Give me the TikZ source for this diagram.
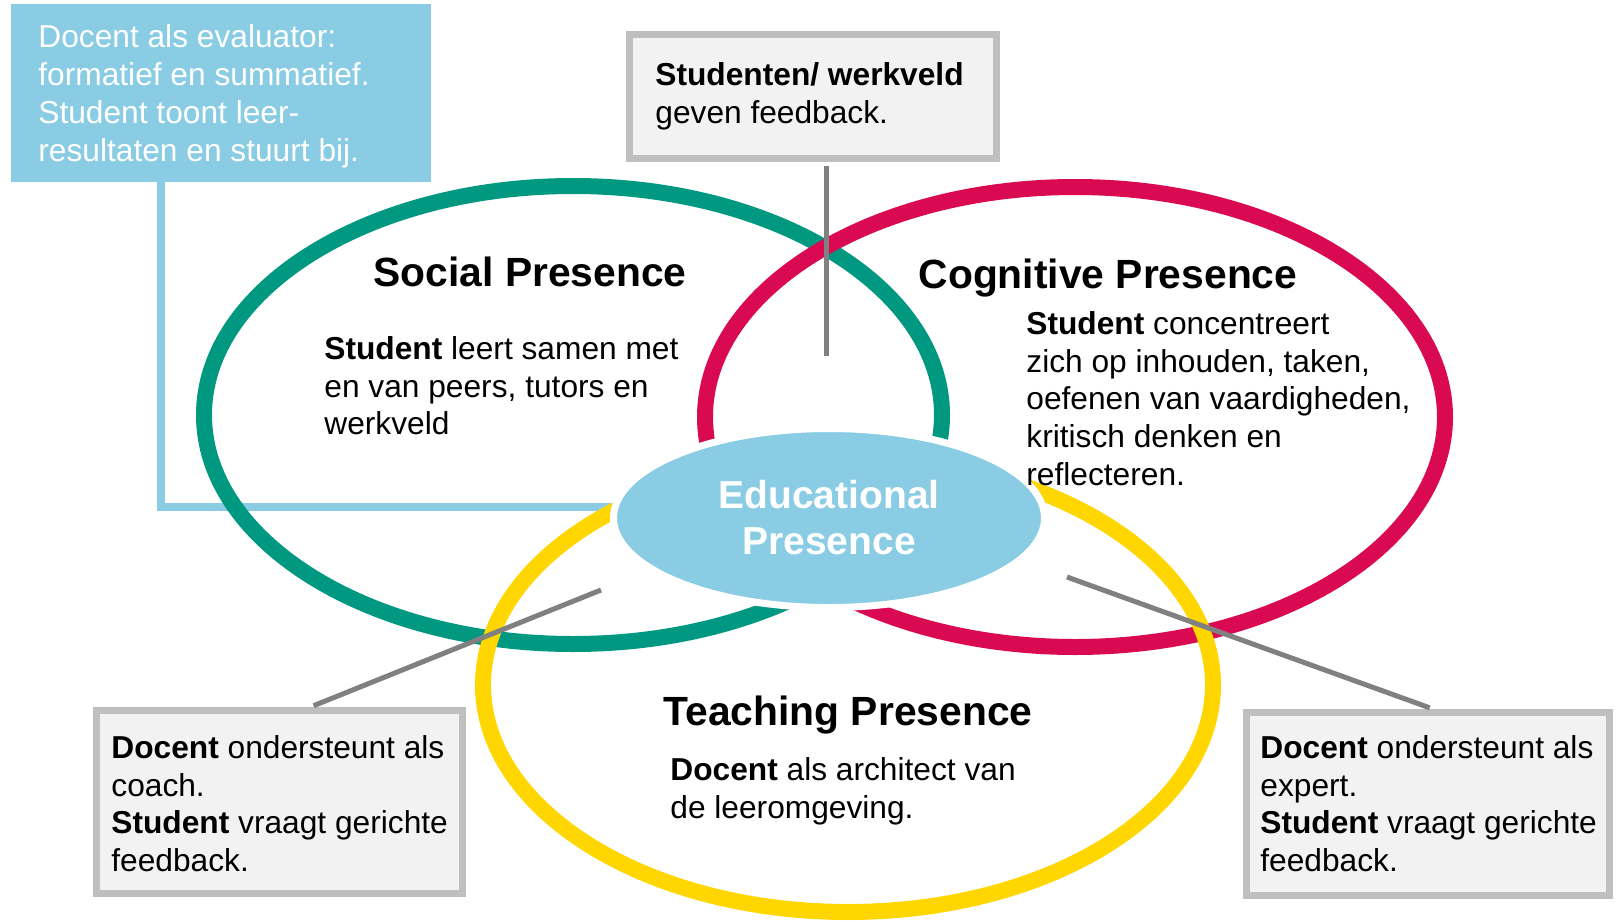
\documentclass[tikz,border=0pt]{standalone}
\usepackage{fontspec}
\setmainfont{Liberation Sans}
\usetikzlibrary{shapes.geometric}

\definecolor{edublue}{RGB}{137,204,228}
\definecolor{socgreen}{RGB}{0,152,128}
\definecolor{cogred}{RGB}{218,10,82}
\definecolor{teachyellow}{RGB}{255,214,0}
\definecolor{linegray}{RGB}{128,128,128}
\definecolor{boxgray}{RGB}{191,191,191}
\definecolor{boxfill}{RGB}{242,242,242}

\pgfdeclarelayer{achter}
\pgfsetlayers{achter,main}

\tikzset{
	ring/.style={line width=8pt},
	greybox/.style={rectangle, draw=boxgray, line width=3.5pt, fill=boxfill, inner sep=0pt},
	bodytext/.style={font=\fontsize{15.85}{18.9}\selectfont, align=left, anchor=north west, inner sep=0pt},
	titletext/.style={font=\bfseries\fontsize{20.4}{24}\selectfont, anchor=base, inner sep=0pt},
	greylink/.style={draw=linegray, line width=2.5pt, shorten <=1.75pt},
	bluelink/.style={draw=edublue, line width=4pt}
}

\begin{document}
\begin{tikzpicture}[x=0.5pt,y=-0.5pt]
	\useasboundingbox (0,0) rectangle (1616,921);
	
	%evaluator
	\node[rectangle, fill=edublue, inner sep=0pt, minimum width=210pt, minimum height=89pt] (eval) at (221,93) {};
	\node[bodytext, text=white] (evaltext) at (38,24.5) {Docent als evaluator:\\formatief en summatief.\\Student toont leer-\\resultaten en stuurt bij.};
	
	%ringen
	\draw[ring, socgreen] (573,415) ellipse [x radius=369, y radius=229];
	\draw[ring, cogred] (1075,417) ellipse [x radius=370, y radius=230];
	\draw[ring, teachyellow] (848,685) ellipse [x radius=365, y radius=227];
	
	%educational presence
	\node[ellipse, fill=edublue, draw=white, line width=3.5pt, inner sep=0pt,
		minimum width=215.5pt, minimum height=89.5pt, text=white, align=center,
		font=\bfseries\fontsize{19.5}{23}\selectfont] (edu) at (829,518) {Educational\\Presence};
	\begin{pgfonlayer}{achter}
		\draw[bluelink] (eval.236) |- (edu.177);
	\end{pgfonlayer}
	
	%kaders
	\coordinate (feedend) at (826,356);
	\coordinate (coachend) at (601,590);
	\coordinate (expertend) at (1067,577);
	\node[greybox, minimum width=183.5pt, minimum height=62pt] (feedbox) at (813,96.5) {};
	\node[greybox, minimum width=183pt, minimum height=91.5pt] (coachbox) at (279.5,802) {};
	\node[greybox, minimum width=181.5pt, minimum height=91.5pt] (expertbox) at (1428,804) {};
	\draw[greylink] (feedbox.south -| feedend) -- (feedend);
	\draw[greylink] (coachbox.72) -- (coachend);
	\draw[greylink] (expertbox.87) -- (expertend);
	
	%teksten
	\node[titletext] (soctitle) at (530,286) {Social Presence};
	\node[titletext] (cogtitle) at (1108,288) {Cognitive Presence};
	\node[titletext] (teachtitle) at (848,725) {Teaching Presence};
	
	\node[bodytext] (soctext) at (324,336) {\textbf{Student} leert samen met\\en van peers, tutors en\\werkveld};
	\node[bodytext] (cogtext) at (1026,311) {\textbf{Student} concentreert\\zich op inhouden, taken,\\oefenen van vaardigheden,\\kritisch denken en\\reflecteren.};
	\node[bodytext] (teachtext) at (670,757) {\textbf{Docent} als architect van\\de leeromgeving.};
	
	\node[bodytext] (feedtext) at (655,62.5) {\textbf{Studenten/ werkveld}\\geven feedback.};
	\node[bodytext] (coachtext) at (111,735) {\textbf{Docent} ondersteunt als\\coach.\\\textbf{Student} vraagt gerichte\\feedback.};
	\node[bodytext] (experttext) at (1260,735) {\textbf{Docent} ondersteunt als\\expert.\\\textbf{Student} vraagt gerichte\\feedback.};
\end{tikzpicture}
\end{document}
